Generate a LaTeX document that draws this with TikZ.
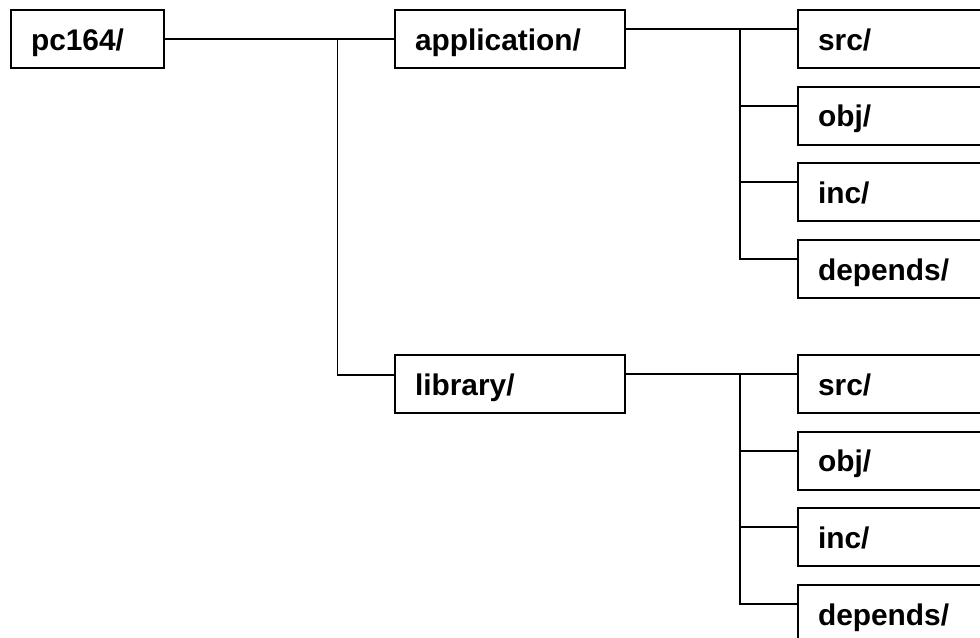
\documentclass[tikz,border=0pt]{standalone}
\usepackage{fontspec}
\setmainfont{Liberation Sans}
\usepackage{tikz}
\tikzset{
  dirnode/.style  = {draw, line width=1.1pt, minimum height=1.16cm,
                     inner xsep=0.4cm, inner ysep=0pt, align=left,
                     text height=0.6cm, text depth=0.16cm,
                     font=\fontsize{17}{20}\selectfont\bfseries, fill=white},
  topnode/.style  = {dirnode, text width=2.26cm},
  midnode/.style  = {dirnode, text width=3.8cm},
  leafnode/.style = {dirnode, text width=3.2cm},
  link/.style     = {-, line width=1.1pt, black},
}

\begin{document}
\begin{tikzpicture}[x=0.02cm, y=-0.02cm]
    \useasboundingbox (0,0) rectangle (980,637);
    \clip (0,0) rectangle (980,637);

    % --- root and first level ---
    \node[topnode] (pc)  at (87.5,39) {pc164/};
    \node[midnode] (app) at (510,39)  {application/};
    \node[midnode] (lib) at (510,384) {library/};

    % --- leaves ---
    \foreach \d/\name [count=\i from 0] in {src/src, obj/obj, inc/inc, dep/depends} {
      \node[leafnode] (app\d) at (898,39+76.7*\i)  {\name/};
      \node[leafnode] (lib\d) at (898,384+76.7*\i) {\name/};
    }

    % --- root branch ---
    \draw[link] (pc.east) -- (app.west) coordinate[pos=0.753] (J0);
    \draw[link] (J0) |- ([yshift=0.18cm]lib.west);

    % --- application branch ---
    \draw[link] ([yshift=0.2cm]app.east) -- ([yshift=0.2cm]appsrc.west)
      coordinate[pos=0.665] (J1);
    \foreach \d in {obj, inc, dep}
      \draw[link] (J1) |- ([yshift=0.2cm]app\d.west);

    % --- library branch ---
    \draw[link] ([yshift=0.2cm]lib.east) -- ([yshift=0.2cm]libsrc.west)
      coordinate[pos=0.665] (J2);
    \foreach \d in {obj, inc, dep}
      \draw[link] (J2) |- ([yshift=0.2cm]lib\d.west);
\end{tikzpicture}
\end{document}
